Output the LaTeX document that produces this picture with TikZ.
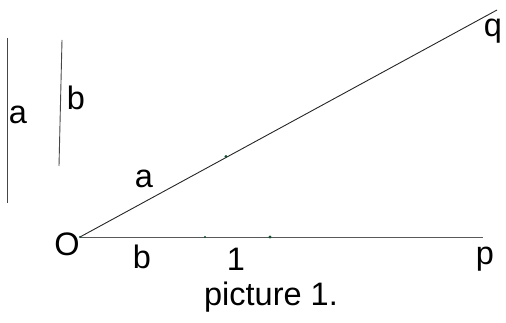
\documentclass[tikz,border=0pt]{standalone}
\usepackage{fontspec}
\setmainfont{Liberation Sans}
\definecolor{linegray}{RGB}{70,70,70}
\definecolor{dotgreen}{RGB}{20,80,50}
\begin{document}
\begin{tikzpicture}[x=1pt,y=-1pt,
  seg/.style={draw=linegray,line width=0.9pt},
  lbl/.style={anchor=base,inner sep=0pt,font=\fontsize{32.5}{38}\selectfont},
  pt/.style={fill=dotgreen,circle,inner sep=0pt,minimum size=3.2pt}]
\useasboundingbox (0,0) rectangle (506,323);
% reference segments
\coordinate (a1) at (7,38);
\coordinate (a2) at (7,203);
\coordinate (b1) at (62,40);
\coordinate (b2) at (59,166);
\draw[seg] (a1) -- (a2);
\draw[seg] (b1) -- (b2);
\node[lbl] (la) at (18,124) {a};
\node[lbl] (lb) at (76,110) {b};
% angle
\coordinate (O) at (80,237);
\coordinate (P) at (483,237);
\coordinate (Q) at (497,10);
\draw[seg,draw=gray!70!black] (O) -- (P);
\draw[seg,draw=black!85] (O) -- (Q);
\node[pt] (d1) at (226,156.5) {};
\node[pt,minimum size=2.4pt] (d2) at (205,237) {};
\node[pt] (d3) at (270,237) {};
\node[pt,minimum size=2.4pt] (d0) at (O) {};
\node[lbl] (lO) at (67,255) {O};
\node[lbl] (lao) at (144,188) {a};
\node[lbl] (lbo) at (142,268) {b};
\node[lbl] (l1) at (236,270) {1};
\node[lbl] (lp) at (485,264) {p};
\node[lbl] (lq) at (493,37) {q};
\node[lbl] (cap) at (271,305) {picture 1.};
\end{tikzpicture}
\end{document}
